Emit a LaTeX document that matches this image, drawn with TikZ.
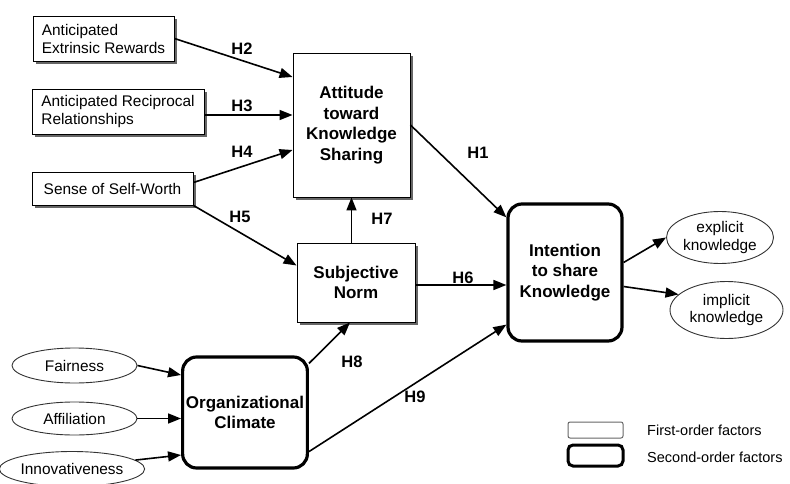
\documentclass[tikz,border=0pt]{standalone}
\usepackage{fontspec}
\setmainfont{Liberation Sans}
\usetikzlibrary{arrows.meta,shadows,shapes.geometric}
\tikzset{every picture/.style={x=1pt,y=-1pt}}
\tikzset{
  factor/.style={draw, line width=0.9pt, fill=white,
    drop shadow={shadow xshift=3pt, shadow yshift=-3pt, fill=black!60, opacity=1}},
  leftbox/.style={factor, align=left, font=\fontsize{15.4}{18}\selectfont},
  midbox/.style={factor, align=center, font=\bfseries\fontsize{17}{20.5}\selectfont},
  second/.style={draw, line width=3.2pt, rounded corners=14pt, fill=white, align=center,
    font=\bfseries\fontsize{17}{20.5}\selectfont},
  dim/.style={ellipse, draw=black!80, line width=0.9pt, inner sep=0pt, align=center,
    font=\fontsize{15.4}{17.5}\selectfont},
  hyp/.style={-{Triangle[length=13pt,width=10pt]}, line width=1.6pt},
  hlab/.style={font=\bfseries\fontsize{16.5}{18}\selectfont, inner sep=0pt},
}

\begin{document}
\begin{tikzpicture}
    \useasboundingbox (0,0) rectangle (790,484);
    % first-order factors
    \node[leftbox, minimum width=141, minimum height=45] (ext) at (103.5,38.5) {Anticipated\\Extrinsic Rewards};
    \node[leftbox, minimum width=172, minimum height=45] (rec) at (118,111.5) {Anticipated Reciprocal\\Relationships};
    \node[leftbox, minimum width=161, minimum height=33] (sow) at (112.5,188.5) {Sense of Self-Worth};
    \node[midbox, minimum width=117, minimum height=144] (att) at (351.5,125) {Attitude\\toward\\Knowledge\\Sharing};
    \node[midbox, minimum width=118, minimum height=79] (sn) at (356,282.5) {Subjective\\Norm};
    % second-order factors
    \node[second, minimum width=114, minimum height=137] (int) at (565,272.5) {Intention\\to share\\Knowledge};
    \node[second, minimum width=124, minimum height=111] (oc) at (245,412.5) {Organizational\\Climate};
    % dimensions
    \node[dim, minimum width=125, minimum height=35] (fair) at (74.5,365.5) {Fairness};
    \node[dim, minimum width=125, minimum height=33] (aff) at (74.5,418.5) {Affiliation};
    \node[dim, minimum width=122, minimum height=35] (inno) at (72,469) {Innovativeness};
    \node[dim, minimum width=107, minimum height=52] (expl) at (720,237.5) {explicit\\knowledge};
    \node[dim, minimum width=113, minimum height=57] (impl) at (726.5,310) {implicit\\knowledge};

    % hypotheses
    \draw[hyp] (ext.east) -- ([yshift=48pt]att.west);
    \draw[hyp] ([yshift=-3.5pt]rec.east) -- ([yshift=-3.5pt]rec.east -| att.west);
    \draw[hyp] ([yshift=6pt]sow.east) -- ([yshift=-25pt]att.west);
    \draw[hyp] (sow.south east) -- ([yshift=17pt]sn.west);
    \draw[hyp] (sn.north -| att.south) -- (att.south);
    \draw[hyp] (att.east) -- ([yshift=-15pt]int.north west);
    \draw[hyp] ([yshift=-2.5pt]sn.east) -- ([yshift=-2.5pt]sn.east -| int.west);
    \draw[hyp] ([yshift=-8pt]oc.north east) -- ([xshift=-6pt]sn.south);
    \draw[hyp] ([yshift=18pt]oc.south east) -- ([yshift=18pt]int.south west);
    \draw[hyp] (fair.east) -- ([yshift=37.5pt]oc.west);
    \draw[hyp] (aff.east) -- (aff.east -| oc.west);
    \draw[hyp] (inno.8) -- ([yshift=-42.5pt]oc.west);
    \draw[hyp] ([yshift=10pt]int.east) -- (expl.west);
    \draw[hyp] ([yshift=-14pt]int.east) -- (impl.162);

    \node[hlab] (h2) at (242,49) {H2};
    \node[hlab] (h3) at (242,106) {H3};
    \node[hlab] (h4) at (242,152) {H4};
    \node[hlab] (h5) at (240,217) {H5};
    \node[hlab] (h7) at (382,219) {H7};
    \node[hlab] (h1) at (478,153) {H1};
    \node[hlab] (h6) at (463,278) {H6};
    \node[hlab] (h8) at (352,362) {H8};
    \node[hlab] (h9) at (415,397) {H9};

    % legend
    \node[draw=black!60, line width=1pt, rounded corners=2pt, minimum width=55, minimum height=16] (lg1) at (595.5,430) {};
    \node[draw, line width=3pt, rounded corners=5pt, minimum width=55, minimum height=21] (lg2) at (595.5,455.5) {};
    \node[anchor=west, inner sep=0pt, font=\fontsize{14.5}{16}\selectfont] (lt1) at (647,430) {First-order factors};
    \node[anchor=west, inner sep=0pt, font=\fontsize{14.5}{16}\selectfont] (lt2) at (647,457) {Second-order factors};
\end{tikzpicture}
\end{document}
